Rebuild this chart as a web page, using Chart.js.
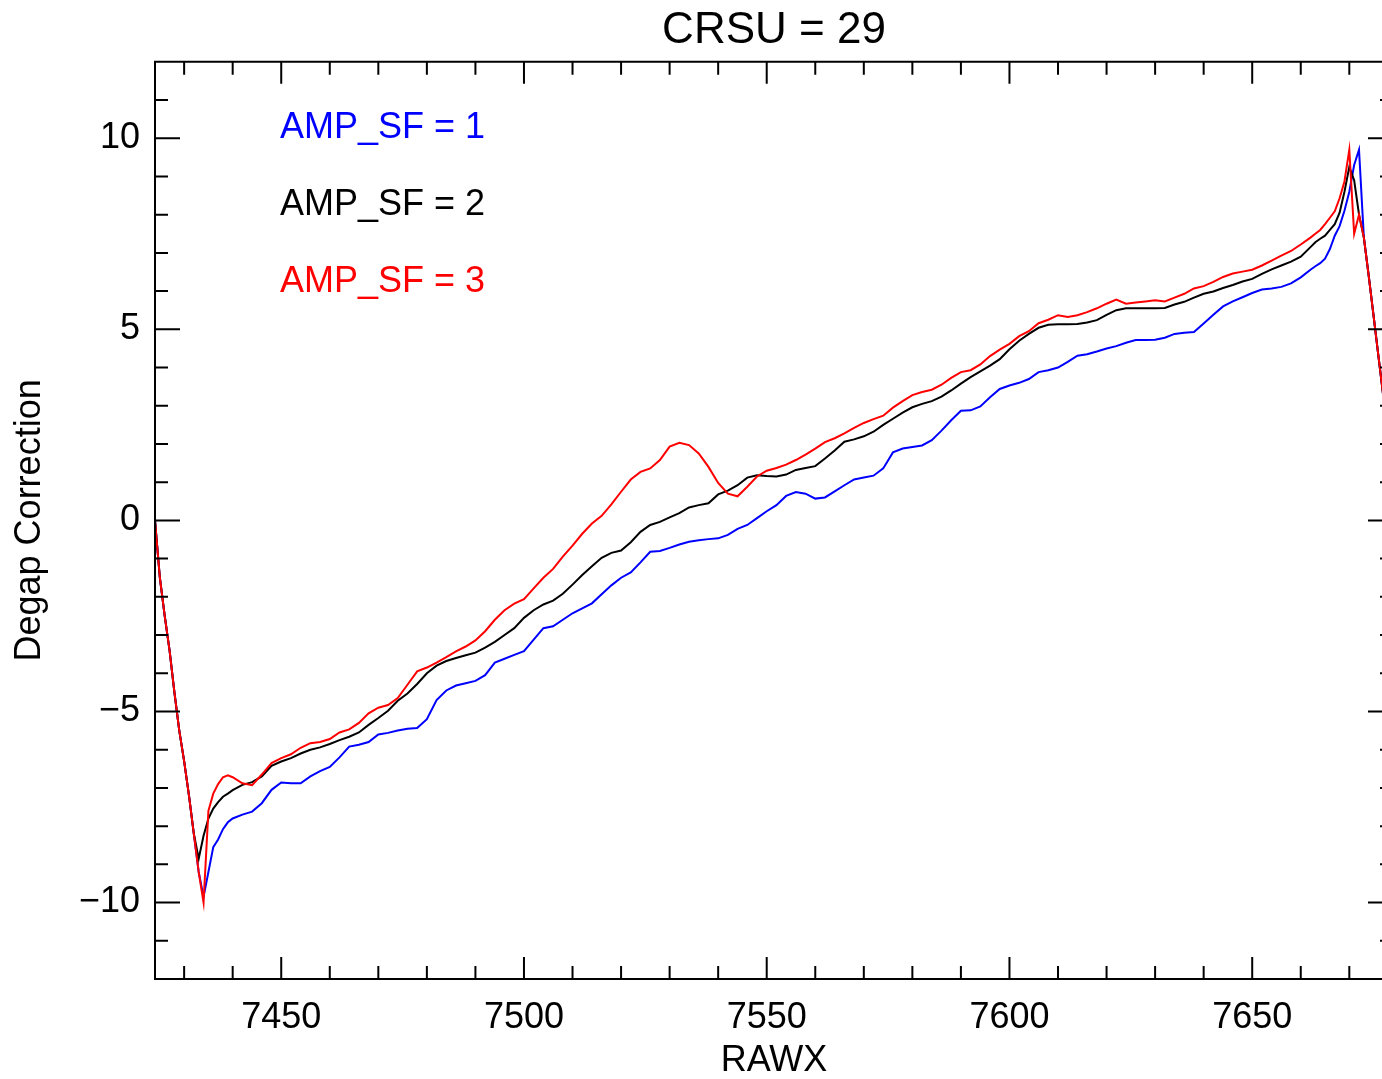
<!DOCTYPE html>
<html>
<head>
<meta charset="utf-8">
<title>CRSU = 29</title>
<script src="https://cdn.jsdelivr.net/npm/chart.js@4/dist/chart.umd.min.js"></script>
<style>
  html, body { margin: 0; padding: 0; background: #fff; overflow: hidden; }
  #wrap { width: 1382px; height: 1079px; overflow: hidden; }
  #degap { display: block; }
</style>
</head>
<body>
<!-- the plot box runs a little past the right edge of the picture, as in the original -->
<div id="wrap"><canvas id="degap" width="1393" height="1079"></canvas></div>
<script>
// RAWX positions
const rawx = [
  7424, 7425, 7426, 7427, 7428, 7429, 7430, 7431, 7432, 7433, 7434, 7435, 7436, 7437, 7438, 7439, 7440,
  7442, 7444, 7446, 7448, 7450, 7452, 7454, 7456, 7458, 7460, 7462, 7464, 7466, 7468, 7470, 7472, 7474, 7476, 7478, 7480,
  7482, 7484, 7486, 7488, 7490, 7492, 7494, 7496, 7498, 7500, 7502, 7504, 7506, 7508, 7510, 7512, 7514, 7516, 7518, 7520,
  7522, 7524, 7526, 7528, 7530, 7532, 7534, 7536, 7538, 7540, 7542, 7544, 7546, 7548, 7550, 7552, 7554, 7556, 7558, 7560,
  7562, 7564, 7566, 7568, 7570, 7572, 7574, 7576, 7578, 7580, 7582, 7584, 7586, 7588, 7590, 7592, 7594, 7596, 7598, 7600,
  7602, 7604, 7606, 7608, 7610, 7612, 7614, 7616, 7618, 7620, 7622, 7624, 7626, 7628, 7630, 7632, 7634, 7636, 7638, 7640,
  7642, 7644, 7646, 7648, 7650, 7652, 7654, 7656, 7658, 7660, 7662,
  7663, 7664, 7665, 7666, 7667, 7668, 7669, 7670, 7671, 7672, 7673, 7674, 7675, 7676, 7677, 7678, 7679
];

// AMP_SF = 1 (blue)
const ampSf1 = [
  0, -1.5, -2.5, -3.4, -4.5, -5.5, -6.3, -7.2, -8.2, -9.2, -9.85, -9.2, -8.55, -8.35, -8.08, -7.9, -7.8,
  -7.7, -7.62, -7.4, -7.05, -6.86, -6.88, -6.88, -6.7, -6.56, -6.45, -6.2, -5.92, -5.87, -5.8, -5.6, -5.56, -5.5, -5.45, -5.43, -5.2,
  -4.7, -4.45, -4.32, -4.26, -4.2, -4.05, -3.72, -3.62, -3.52, -3.42, -3.12, -2.82, -2.77, -2.6, -2.43, -2.3, -2.17, -1.93, -1.7, -1.5,
  -1.36, -1.1, -0.82, -0.8, -0.72, -0.63, -0.56, -0.52, -0.49, -0.47, -0.38, -0.22, -0.12, 0.06, 0.24, 0.4, 0.64, 0.74, 0.7, 0.57,
  0.6, 0.76, 0.92, 1.07, 1.12, 1.17, 1.36, 1.78, 1.88, 1.92, 1.96, 2.1, 2.35, 2.62, 2.87, 2.88, 2.98, 3.22, 3.44, 3.53,
  3.6, 3.7, 3.88, 3.93, 4.0, 4.15, 4.31, 4.35, 4.42, 4.5, 4.56, 4.65, 4.72, 4.72, 4.73, 4.78, 4.88, 4.91, 4.93, 5.15,
  5.38, 5.6, 5.73, 5.84, 5.95, 6.04, 6.07, 6.11, 6.2, 6.36, 6.56,
  6.65, 6.73, 6.85, 7.1, 7.45, 7.7, 8.1, 8.6, 9.3, 9.7, 7.4, 6.4, 5.35, 4.3, 3.25, 2.2, 1.15
];

// AMP_SF = 2 (black)
const ampSf2 = [
  0, -1.5, -2.5, -3.4, -4.5, -5.5, -6.3, -7.2, -8.2, -8.85, -8.25, -7.8, -7.54, -7.37, -7.23, -7.15, -7.06,
  -6.92, -6.85, -6.7, -6.42, -6.31, -6.22, -6.1, -6.0, -5.94, -5.85, -5.75, -5.66, -5.55, -5.35, -5.17, -4.98, -4.72, -4.53, -4.28, -4.0,
  -3.8, -3.68, -3.6, -3.53, -3.46, -3.33, -3.18, -3.0, -2.82, -2.55, -2.35, -2.2, -2.1, -1.92, -1.68, -1.43, -1.2, -0.98, -0.85, -0.79,
  -0.57, -0.3, -0.12, -0.04, 0.08, 0.19, 0.34, 0.4, 0.45, 0.68, 0.78, 0.92, 1.12, 1.18, 1.16, 1.15, 1.2, 1.32, 1.37, 1.42,
  1.62, 1.83, 2.06, 2.12, 2.2, 2.32, 2.5, 2.66, 2.82, 2.96, 3.05, 3.12, 3.24, 3.4, 3.58, 3.75, 3.9, 4.05, 4.22, 4.48,
  4.7, 4.88, 5.04, 5.12, 5.13, 5.13, 5.14, 5.18, 5.24, 5.38, 5.5, 5.55, 5.55, 5.55, 5.55, 5.56, 5.65, 5.72, 5.83, 5.93,
  5.99, 6.08, 6.16, 6.25, 6.32, 6.45, 6.57, 6.67, 6.77, 6.9, 7.15,
  7.28, 7.37, 7.45, 7.6, 7.75, 8.05, 8.6, 9.25, 8.9, 8.0, 7.4, 6.4, 5.35, 4.3, 3.25, 2.2, 1.15
];

// AMP_SF = 3 (red)
const ampSf3 = [
  0, -1.5, -2.5, -3.4, -4.5, -5.5, -6.3, -7.2, -8.2, -9.2, -10.0, -7.6, -7.15, -6.9, -6.72, -6.67, -6.72,
  -6.88, -6.93, -6.65, -6.35, -6.22, -6.12, -5.95, -5.83, -5.8, -5.72, -5.55, -5.47, -5.3, -5.05, -4.9, -4.83, -4.65, -4.3, -3.95, -3.85,
  -3.72, -3.58, -3.43, -3.3, -3.14, -2.9, -2.6, -2.35, -2.18, -2.06, -1.78, -1.5, -1.27, -0.95, -0.66, -0.35, -0.08, 0.12, 0.42, 0.75,
  1.07, 1.27, 1.36, 1.58, 1.93, 2.03, 1.97, 1.75, 1.4, 0.98, 0.7, 0.63, 0.88, 1.15, 1.3, 1.37, 1.46, 1.58, 1.72, 1.88,
  2.05, 2.15, 2.28, 2.42, 2.55, 2.65, 2.74, 2.95, 3.12, 3.28, 3.36, 3.42, 3.55, 3.73, 3.88, 3.93, 4.08, 4.3, 4.47, 4.62,
  4.82, 4.95, 5.16, 5.25, 5.37, 5.32, 5.37, 5.45, 5.55, 5.67, 5.78, 5.67, 5.7, 5.73, 5.76, 5.73, 5.83, 5.93, 6.07, 6.13,
  6.24, 6.37, 6.46, 6.51, 6.56, 6.67, 6.8, 6.93, 7.05, 7.22, 7.4,
  7.5, 7.6, 7.75, 7.92, 8.09, 8.43, 8.87, 9.7, 7.5, 8.0, 7.4, 6.4, 5.35, 4.3, 3.25, 2.2, 1.15
];

const xTickValues = [7450, 7500, 7550, 7600, 7650];
const yTickValues = [-10, -5, 0, 5, 10];
const seriesLabels = ["AMP_SF = 1", "AMP_SF = 2", "AMP_SF = 3"];
const seriesColors = ["#0000ff", "#000000", "#ff0000"];

const FONT = '"Liberation Sans", Arial, sans-serif';
Chart.defaults.font.family = FONT;
Chart.defaults.color = "#000";

function toPoints(ys) {
  return rawx.map((x, i) => ({ x: x, y: ys[i] }));
}

// box frame with inward ticks on all four sides + the series labels
const idlFrame = {
  id: "idlFrame",
  afterDatasetsDraw(chart) {
    const { ctx, chartArea: a } = chart;
    const xs = chart.scales.x, ys = chart.scales.y;
    ctx.save();
    ctx.strokeStyle = "#000";
    ctx.lineWidth = 2;
    ctx.beginPath();
    ctx.rect(a.left, a.top, a.right - a.left, a.bottom - a.top);
    for (let v = 7430; v <= 7670; v += 10) {
      const p = xs.getPixelForValue(v);
      const len = v % 50 === 0 ? 22 : 13;
      ctx.moveTo(p, a.bottom); ctx.lineTo(p, a.bottom - len);
      ctx.moveTo(p, a.top); ctx.lineTo(p, a.top + len);
    }
    for (let v = -11; v <= 11; v++) {
      const p = ys.getPixelForValue(v);
      const len = v % 5 === 0 ? 25 : 13;
      ctx.moveTo(a.left, p); ctx.lineTo(a.left + len, p);
      ctx.moveTo(a.right, p); ctx.lineTo(a.right - len, p);
    }
    ctx.stroke();

    ctx.font = "36px " + FONT;
    ctx.textBaseline = "middle";
    ctx.textAlign = "left";
    seriesLabels.forEach((t, i) => {
      ctx.fillStyle = seriesColors[i];
      ctx.fillText(t, a.left + 125, a.top + 66 + i * 77);
    });
    ctx.restore();
  }
};

new Chart(document.getElementById("degap"), {
  type: "line",
  data: {
    datasets: [
      { label: seriesLabels[0], data: toPoints(ampSf1), borderColor: seriesColors[0], order: 3 },
      { label: seriesLabels[1], data: toPoints(ampSf2), borderColor: seriesColors[1], order: 2 },
      { label: seriesLabels[2], data: toPoints(ampSf3), borderColor: seriesColors[2], order: 1 }
    ]
  },
  options: {
    responsive: false,
    animation: false,
    layout: { padding: 0 },
    elements: {
      line: { borderWidth: 2, tension: 0, fill: false },
      point: { radius: 0 }
    },
    plugins: {
      legend: { display: false },
      tooltip: { enabled: false },
      title: {
        display: true,
        text: "CRSU = 29",
        fullSize: false,
        color: "#000",
        font: { size: 44, weight: "normal", family: FONT },
        padding: { top: 4, bottom: 5 }
      }
    },
    scales: {
      x: {
        type: "linear",
        min: 7424,
        max: 7679,
        grid: { display: false, drawTicks: false },
        border: { display: false },
        afterFit(s) { s.height = 100; },
        afterBuildTicks(s) { s.ticks = xTickValues.map(v => ({ value: v })); },
        ticks: {
          padding: 17,
          font: { size: 36 },
          maxRotation: 0,
          autoSkip: false,
          callback: v => String(v)
        },
        title: { display: true, text: "RAWX", font: { size: 36, lineHeight: 1 }, padding: 0 }
      },
      y: {
        type: "linear",
        min: -12,
        max: 12,
        grid: { display: false, drawTicks: false },
        border: { display: false },
        afterFit(s) { s.width = 155; },
        afterBuildTicks(s) { s.ticks = yTickValues.map(v => ({ value: v })); },
        ticks: {
          padding: 15,
          font: { size: 36 },
          callback: v => String(v).replace("-", "\u2212")
        },
        title: {
          display: true,
          text: "Degap Correction",
          font: { size: 36, lineHeight: 1 },
          padding: { top: 12, bottom: 0 }
        }
      }
    }
  },
  plugins: [idlFrame]
});
</script>
</body>
</html>
